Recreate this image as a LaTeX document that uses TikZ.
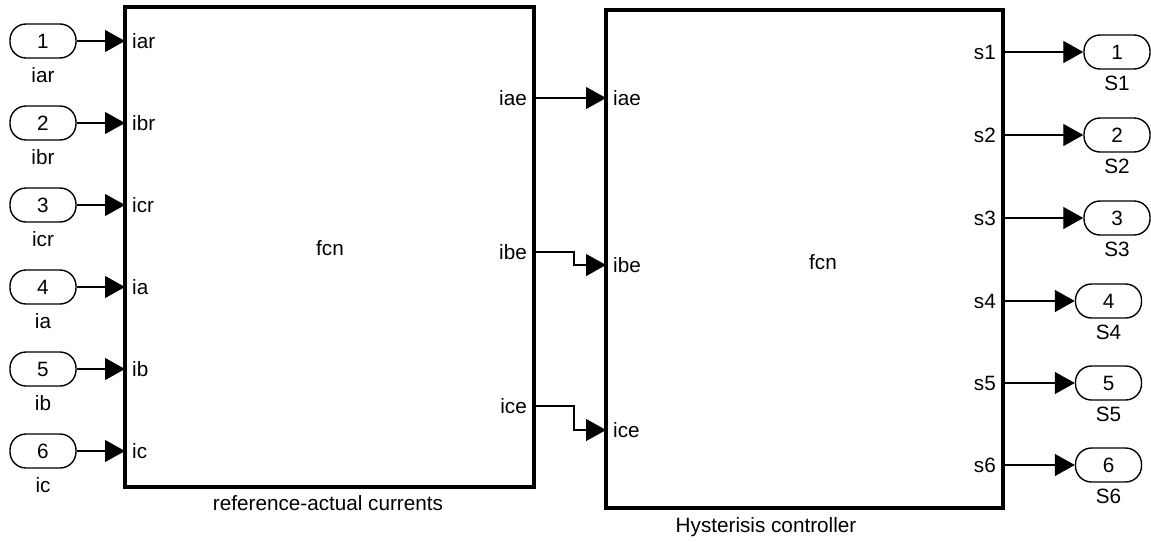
\documentclass[tikz,border=0pt]{standalone}
\usepackage{fontspec}
\setmainfont{Liberation Sans}
\usetikzlibrary{arrows.meta}
\tikzset{
  every node/.style={font=\fontsize{20.7}{24}\selectfont, inner sep=0pt},
  portoval/.style={draw, line width=1.4pt, rounded corners=16pt, minimum width=66pt, minimum height=34pt},
  wire/.style={line width=1.3pt, -{Triangle[length=20pt,width=22pt]}},
}
\begin{document}
\begin{tikzpicture}[x=1pt,y=-1pt]
\useasboundingbox (0,0) rectangle (1151,541);
% blocks
\node[draw, line width=3.5pt, minimum width=409pt, minimum height=480pt] (L) at (329.5,247) {};
\node[draw, line width=3.5pt, minimum width=397pt, minimum height=498pt] (R) at (804.5,259) {};
\node (Lf) at (330,248) {fcn};
\node (Rf) at (823,262) {fcn};
\node (Lt) at (328,503) {reference-actual currents};
\node (Rt) at (766,527) {Hysterisis controller};
% left inports
\foreach \i/\y/\n in {1/41/iar,2/123/ibr,3/205/icr,4/287/ia,5/369/ib,6/451/ic}{
  \node[portoval] (in\i) at (43,\y) {\i};
  \node (inl\i) at (43,\y+34) {\n};
  \coordinate (Li\i) at (125,\y);
  \node[anchor=west] (Lp\i) at (132,\y) {\n};
  \draw[wire] (in\i.east) -- (Li\i);
}
% middle
\node[anchor=east] (Lo1l) at (527,98) {iae};
\node[anchor=east] (Lo2l) at (527,252) {ibe};
\node[anchor=east] (Lo3l) at (527,406) {ice};
\node[anchor=west] (Ri1l) at (613,98) {iae};
\node[anchor=west] (Ri2l) at (613,265) {ibe};
\node[anchor=west] (Ri3l) at (613,430) {ice};
\coordinate (Lo1) at (534,98);
\coordinate (Lo2) at (534,252);
\coordinate (Lo3) at (534,406);
\coordinate (Ri1) at (606,98);
\coordinate (Ri2) at (606,265);
\coordinate (Ri3) at (606,430);
\coordinate (B2) at (574,252);
\coordinate (B3) at (574,406);
\draw[wire] (Lo1) -- (Ri1);
\draw[wire] (Lo2) -- (B2) |- (Ri2);
\draw[wire] (Lo3) -- (B3) |- (Ri3);
% right outports
\foreach \i/\y/\x in {1/52/1117,2/135/1117,3/218/1117,4/301/1108.5,5/383/1108.5,6/465/1108.5}{
  \node[portoval] (out\i) at (\x,\y) {\i};
  \node (outl\i) at (\x,\y+31) {S\i};
  \coordinate (Ro\i) at (1003,\y);
  \node[anchor=east] (Rp\i) at (996,\y) {s\i};
  \draw[wire] (Ro\i) -- (out\i.west);
}
\end{tikzpicture}
\end{document}
